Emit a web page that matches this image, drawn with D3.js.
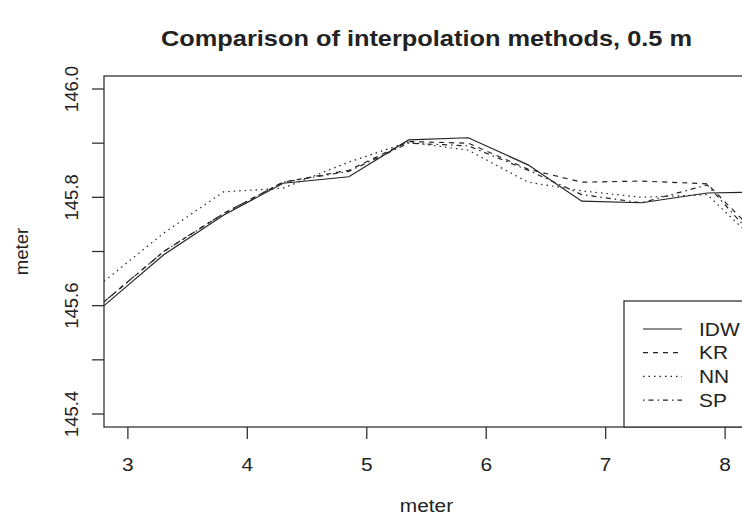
<!DOCTYPE html>
<html>
<head>
<meta charset="utf-8">
<script src="https://cdn.jsdelivr.net/npm/d3@7"></script>
<style>
  body { margin: 0; background: white; }
  text { font-family: "Liberation Sans", Arial, sans-serif; fill: #222; }
</style>
</head>
<body>
<div id="container"></div>
<script>
let w = 742;
let h = 524;
let sx = 1.13; // the original picture is a bit wider than tall

// profile distance (m) and interpolated heights (m)
let distance = [2.8, 3.3, 3.8, 4.3, 4.85, 5.35, 5.85, 6.35, 6.8, 7.3, 7.85, 8.35];
let idw = [145.600, 145.694, 145.767, 145.826, 145.838, 145.906, 145.910, 145.860, 145.793, 145.790, 145.808, 145.810];
let kr  = [145.607, 145.700, 145.770, 145.828, 145.850, 145.903, 145.900, 145.852, 145.828, 145.830, 145.825, 145.713];
let nn  = [145.645, 145.734, 145.810, 145.817, 145.865, 145.902, 145.887, 145.828, 145.812, 145.800, 145.805, 145.700];
let sp  = [145.607, 145.700, 145.770, 145.828, 145.848, 145.900, 145.895, 145.850, 145.805, 145.790, 145.823, 145.700];

let methods = ["IDW", "KR", "NN", "SP"];
let dashes = ["none", "5,5", "1.5,4", "1.5,4,5,4"];
let xTicks = [3, 4, 5, 6, 7, 8];
let yTicks = [145.4, 145.5, 145.6, 145.7, 145.8, 145.9, 146.0];
let yLabels = [145.4, 145.6, 145.8, 146.0];

let pLeft = 104, pRight = 749, pTop = 76, pBottom = 427;

let viz = d3.select("#container").append("svg")
    .attr("width", w)
    .attr("height", h);

let x = d3.scaleLinear().domain([2.8, 8.2]).range([pLeft, pRight]);
let y = d3.scaleLinear().domain([145.376, 146.024]).range([pBottom, pTop]);

viz.append("clipPath").attr("id", "plotclip")
  .append("rect")
    .attr("x", pLeft).attr("y", pTop)
    .attr("width", pRight - pLeft).attr("height", pBottom - pTop);

// lines
let series = [idw, kr, nn, sp];
let line = d3.line()
  .x(function(d, i){ return x(distance[i]); })
  .y(function(d){ return y(d); });

let lineGroup = viz.append("g").attr("clip-path", "url(#plotclip)");
series.forEach(function(s, i){
  lineGroup.append("path")
    .attr("d", line(s))
    .attr("fill", "none")
    .attr("stroke", "#222")
    .attr("stroke-width", 1.2)
    .attr("stroke-dasharray", dashes[i]);
});

// plot box
viz.append("rect")
  .attr("x", pLeft).attr("y", pTop)
  .attr("width", pRight - pLeft).attr("height", pBottom - pTop)
  .attr("fill", "none")
  .attr("stroke", "#333")
  .attr("stroke-width", 1.3);

// x axis
let xAxis = viz.append("g");
xAxis.selectAll(".xtick").data(xTicks).enter()
  .append("line")
  .attr("x1", function(d){ return x(d); })
  .attr("x2", function(d){ return x(d); })
  .attr("y1", pBottom).attr("y2", pBottom + 12)
  .attr("stroke", "#333").attr("stroke-width", 1.3);
xAxis.selectAll(".xlab").data(xTicks).enter()
  .append("text")
  .attr("transform", function(d){ return "translate(" + x(d) + ",471) scale(" + sx + ",1)"; })
  .attr("text-anchor", "middle")
  .attr("font-size", 18.5)
  .text(function(d){ return d; });

// y axis
let yAxis = viz.append("g");
yAxis.selectAll(".ytick").data(yTicks).enter()
  .append("line")
  .attr("x1", pLeft - 12).attr("x2", pLeft)
  .attr("y1", function(d){ return y(d); })
  .attr("y2", function(d){ return y(d); })
  .attr("stroke", "#333").attr("stroke-width", 1.3);
yAxis.selectAll(".ylab").data(yLabels).enter()
  .append("text")
  .attr("transform", function(d){ return "translate(78," + y(d) + ") rotate(-90)"; })
  .attr("text-anchor", "middle")
  .attr("font-size", 18.5)
  .text(function(d){ return d.toFixed(1); });

// titles
viz.append("text")
  .attr("transform", "translate(" + (pLeft + pRight) / 2 + ",46) scale(1.18,1)")
  .attr("text-anchor", "middle")
  .attr("font-size", 21.5)
  .attr("font-weight", "bold")
  .text("Comparison of interpolation methods, 0.5 m");
viz.append("text")
  .attr("transform", "translate(" + (pLeft + pRight) / 2 + ",512) scale(" + sx + ",1)")
  .attr("text-anchor", "middle")
  .attr("font-size", 18.5)
  .text("meter");
viz.append("text")
  .attr("transform", "translate(28," + (pTop + pBottom) / 2 + ") rotate(-90)")
  .attr("text-anchor", "middle")
  .attr("font-size", 18.5)
  .text("meter");

// legend
let legend = viz.append("g");
legend.append("rect")
  .attr("x", 624).attr("y", 301)
  .attr("width", pRight - 624).attr("height", pBottom - 301)
  .attr("fill", "white")
  .attr("stroke", "#333").attr("stroke-width", 1.3);
let rows = legend.selectAll(".row").data(methods).enter()
  .append("g")
  .attr("transform", function(d, i){ return "translate(0," + (329 + i * 23.7) + ")"; });
rows.append("line")
  .attr("x1", 643).attr("x2", 682)
  .attr("stroke", "#222").attr("stroke-width", 1.2)
  .attr("stroke-dasharray", function(d, i){ return dashes[i]; });
rows.append("text")
  .attr("transform", "translate(699,6.5) scale(" + sx + ",1)")
  .attr("font-size", 18.5)
  .text(function(d){ return d; });
</script>
</body>
</html>
